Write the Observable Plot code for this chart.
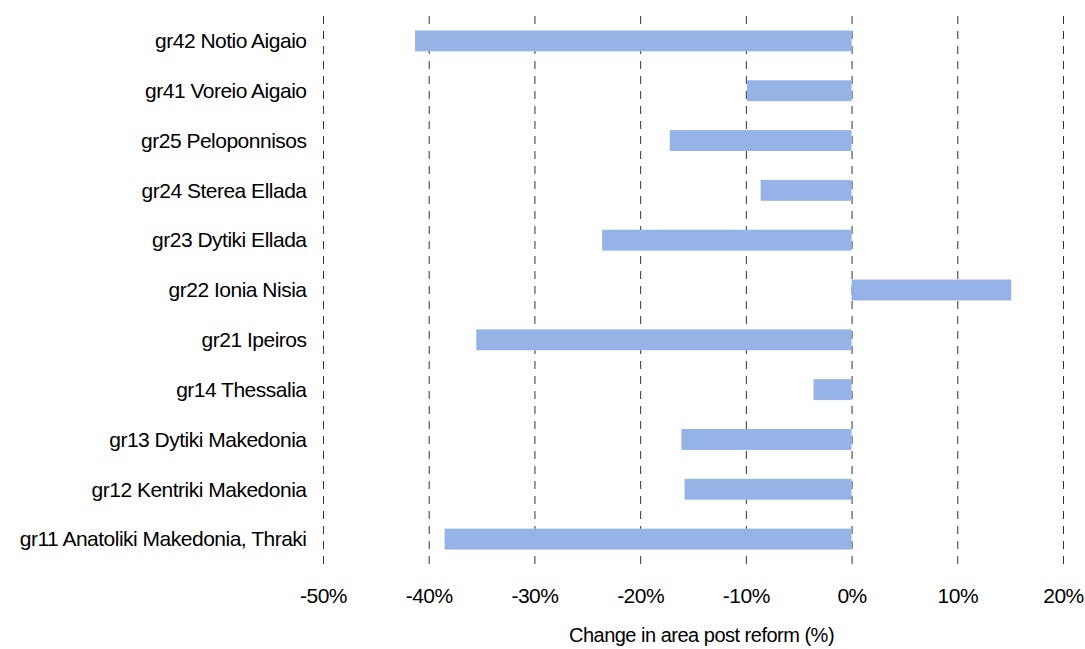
<!DOCTYPE html>
<html>
<head>
<meta charset="utf-8">
<script src="https://cdn.jsdelivr.net/npm/d3@7"></script>
<script src="https://cdn.jsdelivr.net/npm/@observablehq/plot@0.6"></script>
<style>
  html, body { margin: 0; padding: 0; background: #ffffff; }
  #chart svg { display: block; }
</style>
</head>
<body>
<div id="chart"></div>
<script>
// Greek NUTS-2 regions, top to bottom
const regions = [
  "gr42 Notio Aigaio",
  "gr41 Voreio Aigaio",
  "gr25 Peloponnisos",
  "gr24 Sterea Ellada",
  "gr23 Dytiki Ellada",
  "gr22 Ionia Nisia",
  "gr21 Ipeiros",
  "gr14 Thessalia",
  "gr13 Dytiki Makedonia",
  "gr12 Kentriki Makedonia",
  "gr11 Anatoliki Makedonia, Thraki"
];

// Change in area after the reform, in percent
const changes = [-41.3, -9.9, -17.2, -8.6, -23.6, 15.1, -35.5, -3.6, -16.1, -15.8, -38.5];

const xTicks = [-50, -40, -30, -20, -10, 0, 10, 20];
const axisTitle = "Change in area post reform (%)";

const rows = regions.map((region, i) => ({region, change: changes[i]}));

const chart = Plot.plot({
  width: 1085,
  height: 649,
  marginTop: 16,
  marginBottom: 85,
  marginLeft: 323,
  marginRight: 22,
  style: {
    fontFamily: "'Liberation Sans', Arial, sans-serif",
    fontSize: "21px",
    letterSpacing: "-0.5px",
    color: "#000",
    background: "#fff"
  },
  x: {domain: [-50, 20]},
  y: {domain: regions, paddingInner: 0.58, paddingOuter: 0.29, round: false},
  marks: [
    Plot.gridX(xTicks, {stroke: "#333", strokeOpacity: 1, strokeWidth: 1, strokeDasharray: "8,7"}),
    Plot.barX(rows, {x1: 0, x2: "change", y: "region", fill: "#95b3e7"}),
    Plot.axisX({ticks: xTicks, tickSize: 0, tickPadding: 24, tickFormat: d => `${d}%`, label: null}),
    Plot.axisY({tickSize: 0, tickPadding: 17, label: null}),
    Plot.text([axisTitle], {
      frameAnchor: "bottom", dx: 8, dy: 77, text: d => d, fill: "#000",
      fontSize: 20, style: "letter-spacing: -0.9px"
    })
  ]
});

document.getElementById("chart").appendChild(chart);
</script>
</body>
</html>
